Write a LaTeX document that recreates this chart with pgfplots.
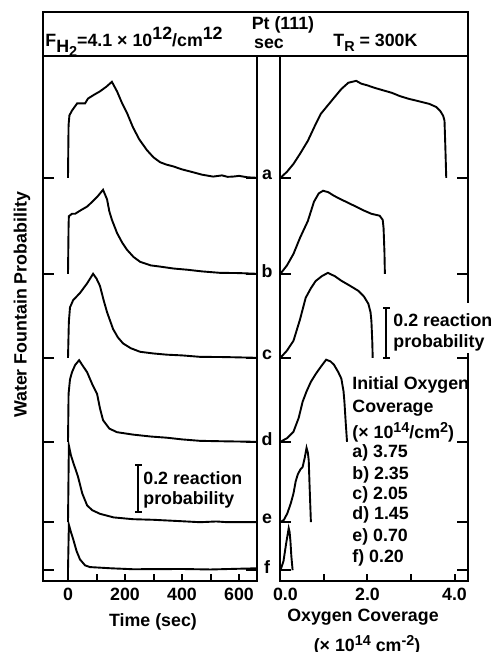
\documentclass[border=0pt]{standalone}
\usepackage{pgfplots}
\pgfplotsset{compat=1.18}
\usepackage{fontspec}
\setmainfont{Liberation Sans}
\newcommand{\ff}{\bfseries\fontsize{8.9}{10.5}\selectfont}
\newcommand{\sm}{\fontsize{7.2}{8}\selectfont}
\begin{document}
\begin{tikzpicture}[font=\ff]
\path[use as bounding box] (-21.5pt,-35.5pt) rectangle (226.5pt,290.5pt);
\pgfplotsset{
  panel/.style={
    scale only axis, height=262.5pt, ymin=0, ymax=2.1875,
    axis line style={line width=1.1pt},
    ytick={0.045,0.245,0.58,0.93,1.28,1.68}, yticklabels={},
    ytick pos=both, xtick pos=bottom, tick align=inside,
    major tick length=5.5pt,
    xtick style={/pgfplots/major tick length=3.5pt},
    tick style={line width=1pt, black},
    tick label style={font=\ff},
    /pgf/number format/assume math mode=true,
    every axis plot/.append style={line width=0.95pt, black, no marks},
    anchor=south west,
  }
}
% ---------------- left panel: time ----------------
\begin{axis}[panel, at={(0pt,0pt)}, width=107pt,
  xmin=-87.7, xmax=663,
  xtick={0,100,200,300,400,500,600}, xticklabels={0,,200,,400,,600}]
\addplot[y filter/.expression={y+1.68}] coordinates {(0,0)(1,0.12)(2,0.22)(5,0.26)(14,0.28)(32,0.31)(60,0.31)(70,0.33)(90,0.345)(112,0.36)(135,0.38)(154,0.40)(172,0.36)(190,0.31)(207,0.27)(228,0.21)(250,0.16)(277,0.115)(300,0.085)(323,0.065)(345,0.055)(368,0.048)(400,0.035)(439,0.023)(470,0.013)(509,0.005)(540,0.01)(560,0.004)(579,0.005)(600,0.008)(630,0.002)(663,0)};
\addplot[y filter/.expression={y+1.28}] coordinates {(0,0)(2,0.20)(3,0.24)(14,0.25)(25,0.25)(45,0.265)(67,0.28)(85,0.30)(102,0.32)(123,0.35)(137,0.31)(145,0.26)(154,0.225)(172,0.17)(190,0.13)(207,0.10)(230,0.07)(253,0.05)(290,0.035)(323,0.03)(370,0.022)(418,0.017)(470,0.01)(533,0.004)(600,0.003)(663,0)};
\addplot[y filter/.expression={y+0.93}] coordinates {(0,0)(3,0.15)(7,0.21)(18,0.24)(42,0.27)(67,0.31)(88,0.35)(100,0.33)(112,0.30)(125,0.24)(137,0.19)(158,0.12)(175,0.085)(193,0.06)(220,0.04)(253,0.025)(300,0.018)(347,0.013)(400,0.01)(463,0.004)(550,0.003)(663,0)};
\addplot[y filter/.expression={y+0.58}] coordinates {(0,0)(2,0.20)(7,0.26)(14,0.29)(25,0.32)(39,0.34)(50,0.32)(67,0.29)(85,0.24)(102,0.20)(112,0.14)(123,0.09)(145,0.055)(172,0.04)(228,0.03)(290,0.022)(347,0.017)(400,0.01)(463,0.004)(550,0.002)(663,0)};
\addplot[y filter/.expression={y+0.245}] coordinates {(0,0)(3,0.32)(10,0.28)(18,0.25)(35,0.19)(50,0.12)(67,0.07)(85,0.05)(112,0.035)(160,0.02)(228,0.0125)(300,0.01)(400,0.004)(463,0)(520,0.003)(560,0)(663,0)};
\addplot[y filter/.expression={y+0.045}] coordinates {(0,-0.045)(0,0)(3,0.19)(10,0.16)(18,0.13)(30,0.08)(42,0.045)(60,0.02)(77,0.013)(150,0.008)(228,0.004)(400,0.005)(500,0.003)(663,0.008)};
\end{axis}
% ---------------- right panel: coverage ----------------
\begin{axis}[panel, at={(118.5pt,0pt)}, width=94pt,
  xmin=-0.01, xmax=4.31,
  xtick={0,1,2,3,4}, xticklabels={\hphantom{0}0.0,,2.0,,4.0}]
\addplot[y filter/.expression={y+1.68}] coordinates {(0,0)(0.15,0.025)(0.30,0.058)(0.45,0.10)(0.63,0.154)(0.80,0.22)(0.93,0.267)(1.08,0.30)(1.23,0.333)(1.40,0.37)(1.56,0.396)(1.74,0.404)(1.86,0.392)(2.0,0.385)(2.16,0.375)(2.35,0.365)(2.56,0.354)(2.75,0.34)(2.95,0.329)(3.2,0.318)(3.42,0.308)(3.58,0.295)(3.67,0.279)(3.74,0.258)(3.77,0.238)(3.79,0.125)(3.81,0)};
\addplot[y filter/.expression={y+1.28}] coordinates {(0,0)(0.15,0.035)(0.30,0.083)(0.45,0.15)(0.63,0.22)(0.77,0.30)(0.88,0.335)(0.98,0.346)(1.1,0.34)(1.23,0.325)(1.45,0.305)(1.70,0.283)(1.90,0.265)(2.09,0.25)(2.28,0.242)(2.35,0.225)(2.37,0.19)(2.39,0.09)(2.40,0)};
\addplot[y filter/.expression={y+0.93}] coordinates {(0,0)(0.15,0.03)(0.30,0.071)(0.45,0.16)(0.58,0.25)(0.70,0.29)(0.81,0.32)(0.95,0.34)(1.09,0.354)(1.25,0.34)(1.40,0.321)(1.60,0.30)(1.79,0.279)(1.92,0.255)(2.02,0.225)(2.07,0.19)(2.09,0.154)(2.11,0.07)(2.12,0)};
\addplot[y filter/.expression={y+0.58}] coordinates {(0,0)(0.15,0.015)(0.30,0.042)(0.42,0.10)(0.51,0.167)(0.60,0.21)(0.70,0.25)(0.82,0.285)(0.93,0.313)(1.05,0.342)(1.15,0.335)(1.23,0.321)(1.33,0.29)(1.40,0.263)(1.45,0.21)(1.47,0.167)(1.50,0.08)(1.53,0)};
\addplot[y filter/.expression={y+0.245}] coordinates {(0,0)(0.08,0.01)(0.16,0.0375)(0.24,0.08)(0.30,0.12)(0.35,0.17)(0.40,0.2)(0.46,0.22)(0.51,0.23)(0.56,0.27)(0.60,0.31)(0.63,0.29)(0.65,0.258)(0.67,0.15)(0.70,0)};
\addplot[y filter/.expression={y+0.045}] coordinates {(0,0)(0.07,0.0375)(0.13,0.11)(0.19,0.175)(0.21,0.16)(0.23,0.12)(0.25,0.06)(0.28,0)};
\end{axis}
% ---------------- header box ----------------
\draw[line width=1.1pt] (0pt,262.5pt) rectangle (212.5pt,284.5pt);
\node[anchor=base west, inner sep=0] at (1pt,267pt)
  {F\raisebox{-3pt}{H\raisebox{-2pt}{\sm 2}}=4.1 × 10\raisebox{3.5pt}{12}/cm\raisebox{3.5pt}{12}};
\node[inner sep=0] at (113pt,268.5pt) {sec};
\node[inner sep=0] at (120pt,278pt) {Pt (111)};
\node[anchor=base west, inner sep=0] at (145pt,267pt) {T\raisebox{-2.5pt}{\sm R} = 300K};
% ---------------- axis labels ----------------
\node[rotate=90, inner sep=0] at (-10.5pt,138pt) {Water Fountain Probability};
\node[inner sep=0] at (55pt,-20.5pt) {Time (sec)};
\node[inner sep=0] at (160pt,-18pt) {Oxygen Coverage};
\node[inner sep=0] at (162pt,-32pt) {(× 10\raisebox{3pt}{\sm 14} cm\raisebox{3pt}{\sm -2})};
% ---------------- trace letters ----------------
\foreach \l/\y in {a/203,b/155,c/113,d/71,e/31,f/7}
  \node[inner sep=0] at (112pt,\y pt) {\l};
% ---------------- scale bars ----------------
\draw[line width=0.8pt] (47.5pt,34.5pt) -- (47.5pt,58pt)
  (46pt,34.5pt) -- (49.5pt,34.5pt) (46pt,58pt) -- (49.5pt,58pt);
\node[anchor=west, inner sep=0] at (50pt,51.5pt) {0.2 reaction};
\node[anchor=west, inner sep=0] at (50pt,40.5pt) {probability};
\fill[white] (210.5pt,114pt) rectangle (214.5pt,139pt);
\draw[line width=0.8pt] (171.5pt,111.5pt) -- (171.5pt,136.5pt)
  (170pt,111.5pt) -- (173.5pt,111.5pt) (170pt,136.5pt) -- (173.5pt,136.5pt);
\node[anchor=west, inner sep=0] at (175pt,130.5pt) {0.2 reaction};
\node[anchor=west, inner sep=0] at (175pt,119pt) {probability};
% ---------------- initial coverage list ----------------
\foreach \t/\y in {Initial Oxygen/98,Coverage/86.5,a) 3.75/64,b) 2.35/53,c) 2.05/43,d) 1.45/33,e) 0.70/22,f) 0.20/11.5}
  \node[anchor=west, inner sep=0] at (154.5pt,\y pt) {\t};
\node[anchor=west, inner sep=0] at (154.5pt,74.5pt) {(× 10\raisebox{3pt}{\sm 14}/cm\raisebox{3pt}{\sm 2})};
\end{tikzpicture}
\end{document}
